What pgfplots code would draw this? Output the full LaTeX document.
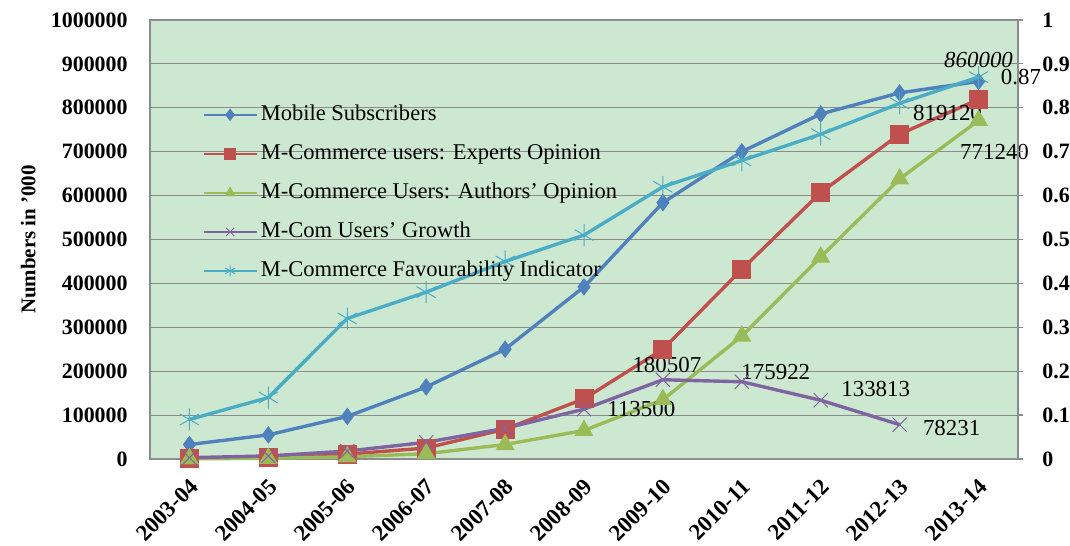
\documentclass[border=0pt]{standalone}
\usepackage{fontspec}
\setmainfont{Liberation Serif}
\usepackage{pgfplots}
\pgfplotsset{compat=1.18}
\definecolor{bgGreen}{RGB}{205,232,208}
\definecolor{cBlue}{RGB}{79,129,189}
\definecolor{cRed}{RGB}{192,80,77}
\definecolor{cGreen}{RGB}{155,187,89}
\definecolor{cPurple}{RGB}{128,100,162}
\definecolor{cCyan}{RGB}{75,172,198}
\definecolor{gridGray}{RGB}{140,140,140}
\tikzset{lbl/.style={font=\fontsize{11.5}{13}\selectfont, inner sep=0pt}}
\begin{document}
\begin{tikzpicture}
\pgfplotsset{
  common/.style={scale only axis, width=434bp, height=219.5bp,
    xmin=-0.5, xmax=10.5, clip=false,
    /pgf/number format/assume math mode=true,
    every axis plot/.append style={line width=1.7bp}},
}
\begin{axis}[common, name=ax,
  ymin=0, ymax=1000000,
  ytick={0,100000,200000,300000,400000,500000,600000,700000,800000,900000,1000000},
  scaled y ticks=false,
  yticklabel style={/pgf/number format/fixed,/pgf/number format/1000 sep={},
    font=\bfseries\fontsize{11}{13}\selectfont, inner sep=0pt, xshift=-11bp},
  ymajorgrids, grid style={gridGray, line width=0.6bp},
  axis line style={gridGray, line width=0.6bp},
  major tick length=0pt,
  xtick={0,1,2,3,4,5,6,7,8,9,10},
  xticklabels={2003-04,2004-05,2005-06,2006-07,2007-08,2008-09,2009-10,2010-11,2011-12,2012-13,2013-14},
  xticklabel style={xshift=-0.5bp, yshift=-9bp, rotate=45, anchor=north east, inner sep=0pt,
    font=\bfseries\fontsize{11.5}{13}\selectfont},
  axis background/.style={fill=bgGreen},
  ylabel={Numbers in '000},
  ylabel style={font=\bfseries\fontsize{10.5}{12}\selectfont,
    at={(axis description cs:-0.1313,0.5)}, anchor=south, inner sep=0pt},
]
\addplot[cBlue, mark=diamond*, mark size=4bp, mark options={line width=0.5bp}] coordinates {
(0,33000) (1,55000) (2,97000) (3,164000) (4,250000) (5,392000) (6,584000) (7,700000) (8,786000) (9,834000) (10,860000)};
\addplot[cRed, mark=square*, mark size=4.5bp, mark options={line width=0.5bp}] coordinates {
(0,2000) (1,4000) (2,11000) (3,25000) (4,68000) (5,137000) (6,250000) (7,432000) (8,607000) (9,740000) (10,819120)};
\addplot[cGreen, mark=triangle*, mark size=5bp, mark options={line width=0.5bp}] coordinates {
(0,500) (1,1500) (2,5000) (3,12000) (4,33000) (5,65000) (6,135000) (7,280000) (8,460000) (9,638000) (10,771240)};
\addplot[cPurple, mark=x, mark size=5bp, mark options={line width=0.5bp}] coordinates {
(0,3000) (1,7000) (2,18000) (3,38000) (4,70000) (5,113500) (6,180507) (7,175922) (8,133813) (9,78231)};
\node[lbl, anchor=west, xshift=11.5bp] at (axis cs:5,113500) {113500};
\node[lbl, xshift=2bp, yshift=7.5bp] at (axis cs:6,180507) {180507};
\node[lbl, xshift=17bp, yshift=5bp] at (axis cs:7,175922) {175922};
\node[lbl, xshift=27.5bp, yshift=5.5bp] at (axis cs:8,133813) {133813};
\node[lbl, anchor=west, xshift=11.5bp, yshift=-1.5bp] at (axis cs:9,78231) {78231};
\node[lbl, font=\itshape\fontsize{11.5}{13}\selectfont, yshift=10.5bp] at (axis cs:10,860000) {860000};
\node[lbl, anchor=west, xshift=11bp] at (axis cs:10,870000) {0.87};
\node[lbl, xshift=-15.5bp, yshift=-7bp] at (axis cs:10,819120) {819120};
\node[lbl, xshift=8bp, yshift=-16bp] at (axis cs:10,771240) {771240};
\end{axis}
\begin{axis}[common,
  ymin=0, ymax=1,
  axis x line=none, axis y line*=right,
  ytick={0,0.1,0.2,0.3,0.4,0.5,0.6,0.7,0.8,0.9,1},
  yticklabels={0,0.1,0.2,0.3,0.4,0.5,0.6,0.7,0.8,0.9,1},
  yticklabel style={font=\bfseries\fontsize{11}{13}\selectfont, inner sep=0pt, xshift=9.5bp},
  tick align=outside, major tick length=2.5bp,
  tick style={gridGray, line width=0.6bp},
  axis line style={gridGray, line width=0.6bp},
  legend cell align=left,
  legend style={at={(axis description cs:0.0599,0.8087)}, anchor=north west,
    draw=none, fill=none, inner sep=0pt, row sep=9bp, column sep=1.5bp,
    font=\fontsize{11.3}{13}\selectfont,
    nodes={inner sep=0pt, text height=8bp, text depth=2.5bp}},
  legend image code/.code={\draw[mark repeat=2, mark phase=2, line width=1.2bp, mark size=2.8bp]
    plot coordinates {(0bp,0bp)(13.25bp,0bp)(26.5bp,0bp)};},
]
\addlegendimage{cBlue, mark=diamond*, mark options={line width=0.4bp}}
\addlegendentry{Mobile Subscribers}
\addlegendimage{cRed, mark=square*, mark options={line width=0.4bp}}
\addlegendentry{M-Commerce users: Experts Opinion}
\addlegendimage{cGreen, mark=triangle*, mark options={line width=0.4bp}}
\addlegendentry{M-Commerce Users: Authors' Opinion}
\addlegendimage{cPurple, mark=x, mark options={line width=0.4bp}}
\addlegendentry{M-Com Users' Growth}
\addplot[cCyan, mark=asterisk, mark size=5.5bp, mark options={line width=0.5bp}] coordinates {
(0,0.09) (1,0.14) (2,0.32) (3,0.38) (4,0.45) (5,0.51) (6,0.62) (7,0.68) (8,0.74) (9,0.81) (10,0.87)};
\addlegendentry{M-Commerce Favourability Indicator}
\end{axis}
\pgfresetboundingbox
\path[use as bounding box] ([shift={(-75bp,-43.5bp)}]ax.south west) rectangle ([shift={(460bp,229.5bp)}]ax.south west);
\end{tikzpicture}
\end{document}
